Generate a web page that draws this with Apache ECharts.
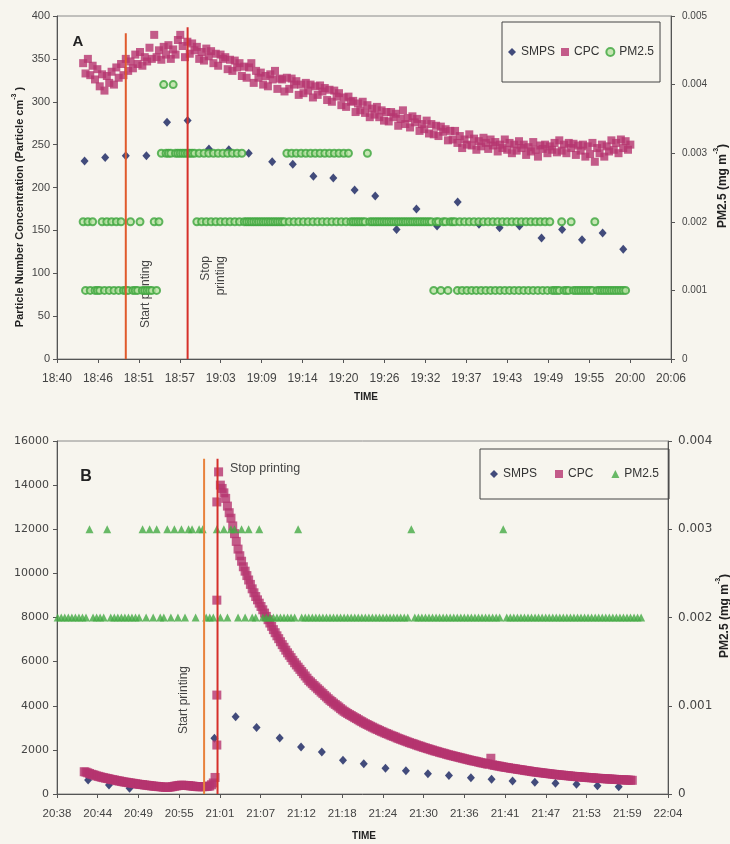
<!DOCTYPE html>
<html><head><meta charset="utf-8">
<script src="https://cdn.jsdelivr.net/npm/echarts/dist/echarts.min.js"></script>
<style>html,body{margin:0;padding:0;background:#f7f5ee}#c{width:730px;height:844px}</style>
</head><body><div id="c"></div>
<script>
// ---------------- Panel A (times = minutes past 18:00) ----------------
const A_SMPS_T = [44.2,47.1,50.0,52.9,55.8,58.7,61.7,64.5,67.3,70.6,73.5,76.4,79.2,82.2,85.1,88.1,90.9,93.8,96.7,99.7,102.6,105.4,108.5,111.4,114.2,117.1,120.0];
const A_SMPS_V = [231,235,237,237,276,278,245,244,240,230,227,213,211,197,190,151,175,155,183,157,153,155,141,151,139,147,128];

const A_CPC_START = 44, A_CPC_STEP = 1/3;
const A_CPC = [
345,333,350, 331,342,326, 338,318,332, 313,330,322, 335,320,340, 328,344,331,
350,336,347, 339,355,344, 358,342,352, 347,363,350, 378,352,360, 349,364,355,
366,350,361, 355,372,378, 365,352,370, 356,368,360, 364,350,358, 348,362,353,
359,345,356, 342,355,350, 352,338,349, 336,348,340, 345,330,341, 328,340,345,
322,336,328, 334,320,330, 318,332,326, 336,315,327, 326,312,328, 315,327,320,
324,308,320, 310,322,313, 320,305,318, 308,319,312, 316,302,314, 300,313,306,
310,296,305, 294,306,300, 301,288,298, 290,300,287, 296,282,292, 285,294,282,
290,278,288, 277,288,282, 286,272,280, 290,274,281, 270,283,276, 280,266,274,
268,278,263, 274,262,272, 260,271,265, 268,255,266, 256,266,252, 260,246,256,
250,262,249, 257,244,254, 248,258,252, 245,256,249, 253,242,250, 246,256,244,
252,240,250, 243,254,246, 250,238,247, 242,253,244, 236,249,245, 250,240,248,
244,252,241, 255,243,250, 240,252,246, 251,238,249, 243,250,236, 248,239,252,
230,246,240, 250,236,248, 242,255,244, 252,240,256, 246,254,244, 250];

// PM2.5 readings, in 0.001 mg m-3 units, one every 20 s (0 = none)
const A_PM_START = 44, A_PM_STEP = 1/3;
const A_PM = [
2,1,2, 1,2,1, 1,1,2, 1,2,1, 2,1,2, 1,2,1, 1,1,2, 1,1,1, 2,1,1, 1,1,1,
2,1,2, 3,4,3, 3,3,4, 3,3,3, 3,3,3, 3,3,3, 2,3,2, 3,2,3, 2,3,2, 3,2,3,
2,3,2, 3,2,3, 2,3,2, 2,2,2, 2,2,2, 2,2,2, 2,2,2, 2,2,2, 2,2,3, 2,3,2,
3,2,3, 2,3,2, 3,2,3, 2,3,2, 3,2,3, 2,3,2, 3,2,3, 2,3,2, 2,2,2, 2,2,2,
3,2,2, 2,2,2, 2,2,2, 2,2,2, 2,2,2, 2,2,2, 2,2,2, 2,2,2, 2,2,2, 2,1,2,
2,1,2, 2,1,2, 2,2,1, 2,1,2, 1,2,1, 2,1,2, 1,2,1, 2,1,2, 1,2,1, 2,1,2,
1,2,1, 2,1,2, 1,2,1, 2,1,2, 1,2,1, 2,1,2, 1,1,1, 1,2,1, 1,1,2, 1,1,1,
1,1,1, 1,1,1, 2,1,1, 1,1,1, 1,1,1, 1,1,1, 1,1];

const A_PRINT_START = 50.0, A_PRINT_STOP = 58.7, A_START_TOP = 380, A_STOP_TOP = 387;

// ---------------- Panel B (times = minutes past 20:00) ----------------
const B_SMPS_T = [42.8,45.75,48.66,60.66,63.66,66.62,69.89,72.91,75.85,78.84,81.78,84.85,87.74,90.85,93.82,96.93,99.85,102.82,105.97,108.89,111.86,114.82,117.83];
const B_SMPS_V = [634,408,258,2522,3502,3010,2537,2130,1900,1525,1375,1163,1057,921,838,740,665,589,529,483,438,378,332];

const B_CPC_PRE_START = 42.25, B_CPC_STEP = 0.25;
const B_CPC_PRE = [
1010,990,960,930,895,875,850,820,800,780,755,740,
720,705,690,665,650,640,615,600,590,570,555,540,
530,515,505,490,480,465,455,440,430,425,410,400,
390,380,370,360,350,345,335,330,320,310,305,300,
310,320,335,350,365,380,390,400,395,390,385,380,
370,360,350,340,335,330,330,330,335,340,350,360,
420,500,750];
const B_CPC_JUMP_T = 61.0;
const B_CPC_JUMP = [4484,2219,8786,13238];
const B_CPC_POST_START = 61.25;
const B_CPC_POST = [
14600,14000,13850,
13650,13400,13050,12750, 12500,12150,11800,11450, 11100,10800,10550,10300,
10100,9900,9700,9500, 9300,9120,8950,8800, 8650,8500,8350,8200,
8050,7900,7750,7600, 7450,7310,7170,7040, 6900,6770,6650,6520,
6400,6290,6180,6060, 5950,5850,5750,5650, 5550,5450,5350,5250,
5150,5080,5000,4920, 4850,4770,4700,4620, 4550,4470,4400,4320,
4250,4190,4120,4060, 4000,3940,3870,3810, 3750,3700,3650,3600,
3560,3510,3460,3420, 3370,3320,3280,3230, 3190,3150,3110,3070,
3030,2990,2950,2920, 2880,2840,2810,2770, 2740,2710,2670,2640,
2610,2580,2540,2510, 2480,2450,2420,2390, 2360,2330,2300,2280,
2250,2220,2190,2170, 2140,2110,2090,2060, 2040,2010,1990,1960,
1940,1920,1890,1870, 1850,1830,1800,1780, 1760,1740,1720,1700,
1680,1660,1640,1620, 1600,1580,1560,1540, 1520,1500,1490,1470,
1450,1430,1410,1400, 1380,1360,1350,1620, 1320,1300,1290,1270,
1260,1240,1230,1210, 1200,1190,1170,1160, 1150,1140,1120,1110,
1100,1090,1070,1060, 1050,1040,1020,1010, 1000,990,980,970,
960,950,940,930, 920,910,900,890, 880,870,865,855,
850,840,830,825, 815,805,800,790, 785,780,770,765,
760,755,745,740, 735,730,720,715, 710,705,700,695,
690,685,680,675, 670,665,660,655, 650,645,640,640,
635,630,625,620];

// PM2.5 readings, in 0.001 mg m-3 units, one every 30 s
const B_PM_START = 38.5, B_PM_STEP = 0.5;
const B_PM = [
2,2,2,2,2,2,2,2,2, 3, 2,2,2,2, 3, 2,2,2,2,2,2,2,2,2,
3,2,3,2,3,2,2,3,2,3,2,3,2,3,3,2,3,3,2,2,2,3,2,3,2,3,3,2,3,2,3,2,2,3,
2,2,2,2,2,2,2,2,2,2, 3,
2,2,2,2,2,2,2,2,2,2,2,2,2,2,2,2,2,2,2,2,2,2,2,2,2,2,2,2,2,2,2, 3,
2,2,2,2,2,2,2,2,2,2,2,2,2,2,2,2,2,2,2,2,2,2,2,2,2, 3,
2,2,2,2,2,2,2,2,2,2,2,2,2,2,2,2,2,2,2,2,2,2,2,2,2,2,2,2,2,2,2,2,2,2,2,2,2,2,2];

const B_PRINT_START = 59.2, B_PRINT_STOP = 61.1, B_LINE_TOP = 15200;

// ---------------- helpers ----------------
const A0 = 778, B0 = 860;   // axis origins in thousandths of a day
const ax = t => (18*60 + t) / 1440 * 1000 - A0;
const bx = t => (20*60 + t) / 1440 * 1000 - B0;
function clock(u) {
  const m = Math.floor(u / 1000 * 1440 + 1e-6);
  const h = Math.floor(m / 60), mm = m % 60;
  return h + ':' + (mm < 10 ? '0' : '') + mm;
}
const FONT = 'Liberation Sans';
const C_SMPS = '#14205e', C_CPC = '#b5356f', C_PM = '#3ca53c';

const smpsA = A_SMPS_T.map((t, i) => [ax(t), A_SMPS_V[i]]);
const cpcA = A_CPC.map((v, i) => [ax(A_CPC_START + i * A_CPC_STEP), v]);
const pmA = A_PM.map((c, i) => c ? [ax(A_PM_START + i * A_PM_STEP), c / 1000] : null).filter(Boolean);

const smpsB = B_SMPS_T.map((t, i) => [bx(t), B_SMPS_V[i]]);
const cpcB = B_CPC_PRE.map((v, i) => [bx(B_CPC_PRE_START + i * B_CPC_STEP), v])
  .concat(B_CPC_JUMP.map(v => [bx(B_CPC_JUMP_T), v]))
  .concat(B_CPC_POST.map((v, i) => [bx(B_CPC_POST_START + i * B_CPC_STEP), v]));
const pmB = B_PM.map((c, i) => c ? [bx(B_PM_START + i * B_PM_STEP), c / 1000] : null).filter(Boolean);

function xAx(gi, origin, fs) {
  return {gridIndex: gi, type: 'value', min: 0, max: 60, interval: 4,
    axisLine: {lineStyle: {color: '#555'}},
    axisTick: {length: 4, lineStyle: {color: '#555'}},
    splitLine: {show: false},
    axisLabel: {formatter: v => clock(v + origin), fontSize: fs, color: '#444', fontFamily: FONT, margin: 14,
      showMinLabel: true, showMaxLabel: true}};
}
function yAx(gi, pos, max, interval, fs, margin, fam) {
  return {gridIndex: gi, type: 'value', position: pos, min: 0, max: max, interval: interval,
    axisLine: {show: true, lineStyle: {color: '#555'}},
    axisTick: {show: true, length: 4, lineStyle: {color: '#555'}},
    splitLine: {show: false},
    axisLabel: {fontSize: fs, color: '#444', fontFamily: fam || FONT, margin: margin,
      formatter: v => String(+v.toFixed(6))}};
}
function vline(xi, yi, x, top, color) {
  return {type: 'line', xAxisIndex: xi, yAxisIndex: yi, data: [[x, 0], [x, top]],
    symbol: 'none', lineStyle: {color: color, width: 2}, z: 6, silent: true};
}
function txt(x, y, text, opts) {
  return Object.assign({type: 'text', x: x, y: y, silent: true,
    style: Object.assign({text: text, fill: '#333', font: '12px ' + FONT, align: 'center', verticalAlign: 'middle'}, opts.style || {})},
    opts.rotation !== undefined ? {rotation: opts.rotation} : {});
}
const R = Math.PI / 2;
const supRich = fs => ({
  b: {fontSize: fs, fontWeight: 'bold', fontFamily: FONT, fill: '#222', lineHeight: fs + 4, verticalAlign: 'bottom'},
  s: {fontSize: 7, fontWeight: 'bold', fontFamily: FONT, fill: '#222', lineHeight: fs + 4, verticalAlign: 'top'}
});

const chart = echarts.init(document.getElementById('c'), null, {renderer: 'canvas'});
chart.setOption({
  backgroundColor: '#f7f5ee',
  animation: false,
  grid: [
    {left: 57, top: 16, right: 59, height: 343, show: true, borderColor: '#8a8a8a', borderWidth: 1},
    {left: 57, top: 441, right: 62, height: 353, show: true, borderColor: '#8a8a8a', borderWidth: 1}
  ],
  xAxis: [xAx(0, A0, 12), xAx(1, B0, 11.5)],
  yAxis: [
    yAx(0, 'left', 400, 50, 11, 7),
    yAx(0, 'right', 0.005, 0.001, 10, 11),
    yAx(1, 'left', 16000, 2000, 11, 8, 'DejaVu Sans'),
    yAx(1, 'right', 0.004, 0.001, 12, 10, 'DejaVu Sans')
  ],
  legend: [
    {data: ['SMPS', 'CPC', 'PM2.5'], left: 502, top: 22, orient: 'horizontal',
      padding: [24, 6, 24, 6], borderColor: '#444', borderWidth: 1, itemGap: 6,
      itemWidth: 8, itemHeight: 8, textStyle: {fontSize: 12, color: '#333', fontFamily: FONT}},
    {data: ['SMPS ', 'CPC ', 'PM2.5 '], left: 480, top: 449, orient: 'horizontal',
      padding: [19, 10, 19, 10], borderColor: '#444', borderWidth: 1, itemGap: 18,
      itemWidth: 8, itemHeight: 8, formatter: n => n.trim(),
      textStyle: {fontSize: 12, color: '#333', fontFamily: FONT}}
  ],
  series: [
    {name: 'SMPS', type: 'scatter', xAxisIndex: 0, yAxisIndex: 0, data: smpsA, symbol: 'diamond', symbolSize: [8, 9], itemStyle: {color: C_SMPS}},
    {name: 'CPC', type: 'scatter', xAxisIndex: 0, yAxisIndex: 0, data: cpcA, symbol: 'rect', symbolSize: 8, itemStyle: {color: C_CPC}},
    {name: 'PM2.5', type: 'scatter', xAxisIndex: 0, yAxisIndex: 1, data: pmA, symbol: 'circle', symbolSize: 7,
      itemStyle: {color: '#b9e2a4', borderColor: C_PM, borderWidth: 2}},
    vline(0, 0, ax(A_PRINT_START), A_START_TOP, '#e05a2c'),
    vline(0, 0, ax(A_PRINT_STOP), A_STOP_TOP, '#d6302a'),

    {name: 'SMPS ', type: 'scatter', xAxisIndex: 1, yAxisIndex: 2, data: smpsB, symbol: 'diamond', symbolSize: [8, 9], itemStyle: {color: C_SMPS}},
    {name: 'CPC ', type: 'scatter', xAxisIndex: 1, yAxisIndex: 2, data: cpcB, symbol: 'rect', symbolSize: 9, itemStyle: {color: C_CPC}},
    {name: 'PM2.5 ', type: 'scatter', xAxisIndex: 1, yAxisIndex: 3, data: pmB, symbol: 'triangle', symbolSize: 8, itemStyle: {color: '#44aa44'}},
    vline(1, 2, bx(B_PRINT_START), B_LINE_TOP, '#e8823c'),
    vline(1, 2, bx(B_PRINT_STOP), B_LINE_TOP, '#d6302a')
  ],
  graphic: [
    txt(78, 42, 'A', {style: {font: 'bold 15px ' + FONT, fill: '#222'}}),
    txt(86, 477, 'B', {style: {font: 'bold 16px ' + FONT, fill: '#222'}}),
    txt(18, 207, '{b|Particle Number Concentration (Particle cm}{s|-3}{b| )}', {rotation: R, style: {rich: supRich(11)}}),
    txt(721, 186, '{b|PM2.5 (mg m}{s|-3}{b|)}', {rotation: R, style: {rich: supRich(12)}}),
    txt(723, 616, '{b|PM2.5 (mg m}{s|-3}{b|)}', {rotation: R, style: {rich: supRich(12)}}),
    txt(366, 397, 'TIME', {style: {font: 'bold 10px ' + FONT, fill: '#222'}}),
    txt(364, 836, 'TIME', {style: {font: 'bold 10px ' + FONT, fill: '#222'}}),
    txt(146, 294, 'Start printing', {rotation: R, style: {fill: '#444'}}),
    txt(213, 256, 'Stop\nprinting', {rotation: R, style: {fill: '#444', align: 'right', lineHeight: 15}}),
    txt(184, 700, 'Start printing', {rotation: R, style: {fill: '#444'}}),
    txt(230, 469, 'Stop printing', {style: {fill: '#444', align: 'left', font: '12.5px ' + FONT}})
  ]
});
</script></body></html>
